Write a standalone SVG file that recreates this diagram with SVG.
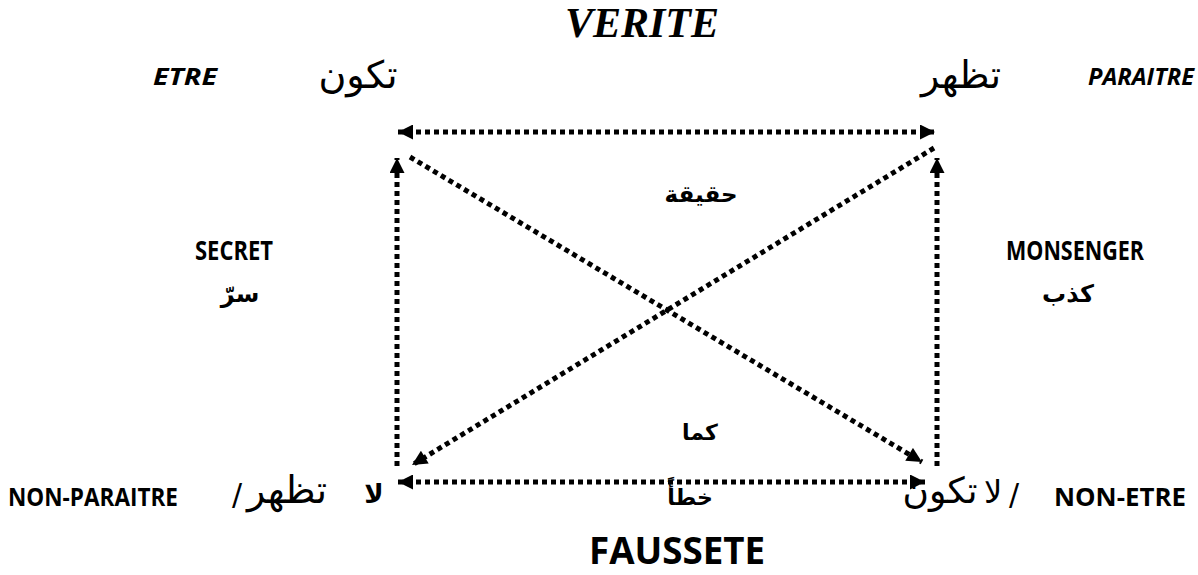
<svg xmlns="http://www.w3.org/2000/svg" width="1198" height="575" viewBox="0 0 1198 575">
<style>
.c{fill:none;stroke:#000;stroke-width:5;stroke-dasharray:5 4}
.lat{font-family:"Open Sans","Liberation Sans",sans-serif;font-weight:bold;fill:#000}
.it{font-style:italic}
.ser{font-family:"Liberation Serif",serif;font-weight:bold;font-style:italic;fill:#000}
.ar{font-family:"DejaVu Sans","Noto Sans",sans-serif;fill:#000}
.arb{font-family:"DejaVu Sans","Noto Sans",sans-serif;font-weight:bold;fill:#000}
</style>
<defs>
<marker id="ah" viewBox="0 0 10 10" refX="10" refY="5" markerUnits="userSpaceOnUse" markerWidth="17" markerHeight="15" orient="auto-start-reverse">
<path d="M0,0 L10,5 L0,10 z" fill="#000"/>
</marker>
</defs>
<rect width="1198" height="575" fill="#fff"/>
<g id="connectors">
<line class="c" x1="398" y1="132" x2="935" y2="132" marker-start="url(#ah)" marker-end="url(#ah)"/>
<line class="c" x1="397" y1="466" x2="397" y2="158" marker-end="url(#ah)"/>
<line class="c" x1="937" y1="466" x2="937" y2="158" marker-end="url(#ah)"/>
<line class="c" x1="398" y1="482" x2="925" y2="482" marker-start="url(#ah)" marker-end="url(#ah)"/>
<line class="c" x1="410" y1="157" x2="922" y2="462" marker-end="url(#ah)"/>
<line class="c" x1="934" y1="148" x2="412" y2="465" marker-end="url(#ah)"/>
</g>
<g id="verite"><text class="ser" x="642" y="37" font-size="42" text-anchor="middle">VERITE</text></g>
<g id="etre">
<text class="lat it" x="185" y="85" font-size="24" text-anchor="middle" textLength="64" lengthAdjust="spacingAndGlyphs">ETRE</text>
<text class="ar" x="358" y="88" font-size="38" text-anchor="middle">تكون</text>
</g>
<g id="paraitre">
<text class="ar" x="961" y="88" font-size="38" text-anchor="middle">تظهر</text>
<text class="lat it" x="1141" y="85" font-size="24" text-anchor="middle" textLength="106" lengthAdjust="spacingAndGlyphs">PARAITRE</text>
</g>
<g id="haqiqa"><text class="arb" x="701" y="202" font-size="23" text-anchor="middle">حقيقة</text></g>
<g id="secret">
<text class="lat" x="234" y="260" font-size="26" text-anchor="middle" textLength="78" lengthAdjust="spacingAndGlyphs">SECRET</text>
<text class="arb" x="240" y="302" font-size="24" text-anchor="middle">سرّ</text>
</g>
<g id="monsenger">
<text class="lat" x="1075" y="260" font-size="26" text-anchor="middle" textLength="138" lengthAdjust="spacingAndGlyphs">MONSENGER</text>
<text class="arb" x="1068" y="302" font-size="24" text-anchor="middle">كذب</text>
</g>
<g id="kama"><text class="arb" x="700" y="440" font-size="22" text-anchor="middle">كما</text></g>
<g id="non-paraitre">
<text class="lat" x="93" y="506" font-size="25" text-anchor="middle" textLength="170" lengthAdjust="spacingAndGlyphs">NON-PARAITRE</text>
<text class="ar" x="237" y="505" font-size="30" text-anchor="middle">/</text>
<text class="ar" x="287" y="503" font-size="38" text-anchor="middle">تظهر</text>
<text class="arb" x="374" y="503" font-size="26" text-anchor="middle">لا</text>
</g>
<g id="khata"><text class="arb" x="690" y="505" font-size="22" text-anchor="middle">خطأً</text></g>
<g id="non-etre">
<text class="ar" x="940" y="503" font-size="36" text-anchor="middle">تكون</text>
<text class="ar" x="993" y="503" font-size="32" text-anchor="middle">لا</text>
<text class="ar" x="1014" y="505" font-size="30" text-anchor="middle">/</text>
<text class="lat" x="1120" y="506" font-size="25" text-anchor="middle" textLength="132" lengthAdjust="spacingAndGlyphs">NON-ETRE</text>
</g>
<g id="faussete"><text class="lat" x="677" y="564" font-size="38" text-anchor="middle" textLength="176" lengthAdjust="spacingAndGlyphs">FAUSSETE</text></g>
</svg>
